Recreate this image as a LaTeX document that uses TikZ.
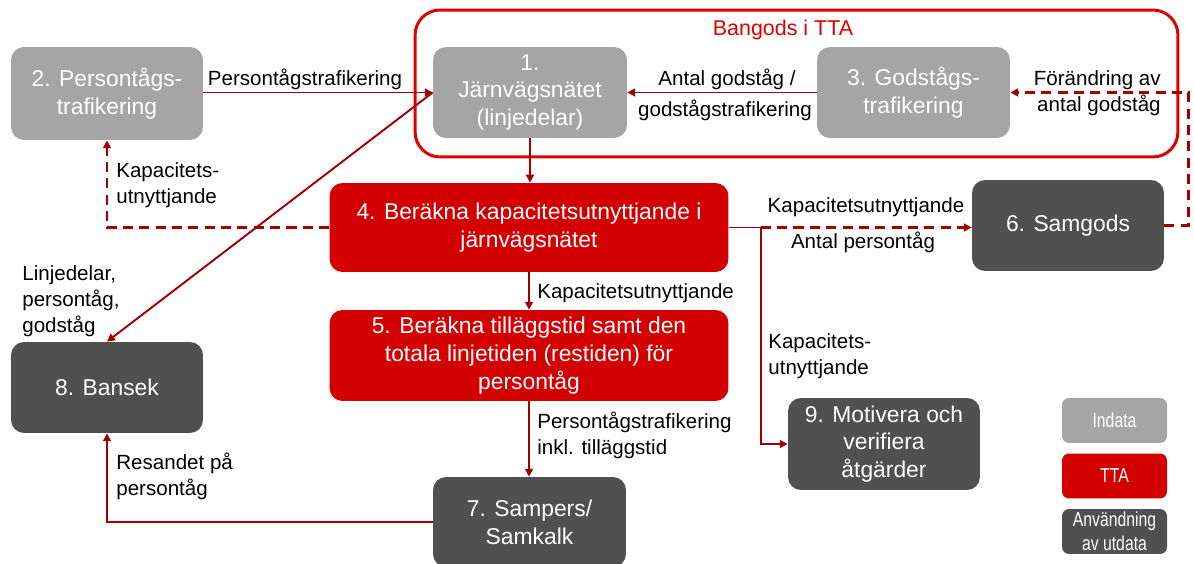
\documentclass[tikz,border=0pt]{standalone}
\usepackage{fontspec}
\setmainfont{Liberation Sans}
\newfontfamily\narrowfont[FakeStretch=0.78]{Liberation Sans}
\usetikzlibrary{arrows.meta,calc}
\definecolor{lightbox}{RGB}{165,165,165}
\definecolor{darkbox}{RGB}{80,80,80}
\definecolor{redbox}{RGB}{210,0,0}
\definecolor{framered}{RGB}{224,0,0}
\definecolor{conn}{RGB}{160,0,0}
\begin{document}
\begin{tikzpicture}[x=0.02cm,y=-0.02cm,
  box/.style={rounded corners=0.26cm, text=white, align=center, inner sep=2pt,
    font=\fontsize{13}{15.8}\selectfont},
  lightb/.style={box, fill=lightbox},
  redb/.style={box, fill=redbox},
  darkb/.style={box, fill=darkbox},
  legendbox/.style={rounded corners=0.14cm, text=white, align=center, inner sep=1pt,
    font=\narrowfont\fontsize{11.5}{13.5}\selectfont, minimum width=2.1cm, minimum height=0.9cm},
  lbl/.style={inner sep=0pt, align=left, font=\fontsize{11.7}{14.7}\selectfont},
  connline/.style={draw=conn, line width=1.1pt},
  arr/.style={connline, -{Triangle[length=4.5pt,width=4.5pt]}},
  darr/.style={arr, line width=1.5pt, dash pattern=on 5.7pt off 3.6pt}
]
\useasboundingbox (0,0) rectangle (1194,564);

% frame
\node[draw=framered, line width=1.7pt, rounded corners=0.5cm,
  minimum width=15.26cm, minimum height=2.94cm, inner sep=0pt] (frame) at (796.5,83.5) {};
\node[text=framered, inner sep=0pt, font=\fontsize{12.2}{14}\selectfont] (ftitle) at (783,30) {Bangods i TTA};

% boxes
\node[lightb, minimum width=3.84cm, minimum height=1.86cm] (n2) at (107,93.5) {2. Persontågs-\\trafikering};
\node[lightb, minimum width=3.88cm, minimum height=1.82cm] (n1) at (530,92.5) {1.\\Järnvägsnätet\\(linjedelar)};
\node[lightb, minimum width=3.86cm, minimum height=1.82cm] (n3) at (913.5,92.5) {3. Godstågs-\\trafikering};
\node[redb, minimum width=7.98cm, minimum height=1.78cm] (n4) at (529,227.5) {4. Beräkna kapacitetsutnyttjande i\\järnvägsnätet};
\node[redb, minimum width=7.98cm, minimum height=1.82cm] (n5) at (529,355.5) {5. Beräkna tilläggstid samt den\\totala linjetiden (restiden) för\\persontåg};
\node[darkb, minimum width=3.84cm, minimum height=1.82cm] (n6) at (1068,225.5) {6. Samgods};
\node[darkb, minimum width=3.84cm, minimum height=1.82cm] (n8) at (107,387.5) {8. Bansek};
\node[darkb, minimum width=3.86cm, minimum height=1.8cm] (n7) at (529.5,522) {7. Sampers/\\Samkalk};
\node[darkb, minimum width=3.84cm, minimum height=1.84cm] (n9) at (884,444) {9. Motivera och\\verifiera\\åtgärder};

% legend
\node[legendbox, fill=lightbox] (lg1) at (1114.5,420.5) {Indata};
\node[legendbox, fill=redbox] (lg2) at (1114.5,476) {TTA};
\node[legendbox, fill=darkbox] (lg3) at (1114.5,531.5) {Användning\\av utdata};

% connectors
\draw[arr] (n2.east |- n1.west) -- (n1.west);
\draw[arr] (n3.west) -- (n1.east);
\draw[arr] (n1.west) -- (n8.north);
\draw[arr] (n1.south) -- (n1.south |- n4.north);
\draw[arr] (n4.south) -- (n5.north);
\draw[arr] (n5.south) -- (n5.south |- n7.north);
\draw[arr] (n7.west) -| (n8.south);
\draw[darr] (n4.west) -| (n2.south);
\coordinate (split) at ($(n4.east)+(32,0)$);
\draw[connline] (n4.east) -- (split);
\draw[arr] (split) |- (n9.west);
\draw[darr] (split) -- (split -| n6.west);
\coordinate (ret) at ($(n6.east)+(24,0)$);
\draw[darr] (n6.east) -- (ret) |- (n3.east);

% labels
\node[lbl] (l21) at (305,79) {Persontågstrafikering};
\node[lbl] (l31a) at (727,79) {Antal godståg /};
\node[lbl] (l31b) at (725,110) {godstågstrafikering};
\node[lbl, align=right, anchor=east] (l63) at (1161,93) {Förändring av\\antal godståg};
\node[lbl, anchor=west] (l42) at (116,185) {Kapacitets-\\utnyttjande};
\node[lbl, anchor=west] (l18) at (22,301) {Linjedelar,\\persontåg,\\godståg};
\node[lbl] (l46a) at (866,207) {Kapacitetsutnyttjande};
\node[lbl] (l46b) at (863,242) {Antal persontåg};
\node[lbl, anchor=west] (l45) at (537,293) {Kapacitetsutnyttjande};
\node[lbl, anchor=west] (l49) at (768,356) {Kapacitets-\\utnyttjande};
\node[lbl, anchor=west] (l57) at (537,435) {Persontågstrafikering\\inkl. tilläggstid};
\node[lbl, anchor=west] (l78) at (116,476) {Resandet på\\persontåg};
\end{tikzpicture}
\end{document}
